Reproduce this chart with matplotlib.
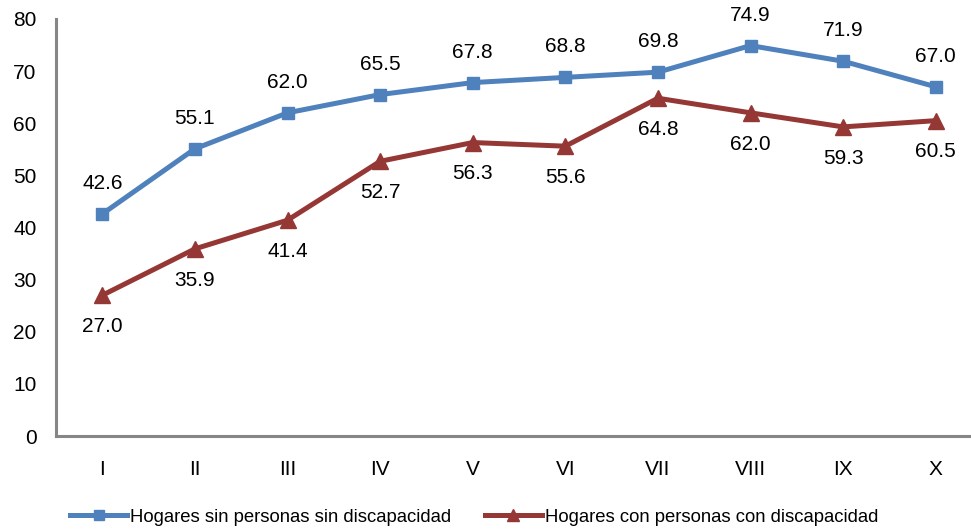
import matplotlib
matplotlib.use("Agg")
import matplotlib.pyplot as plt

categories = ["I", "II", "III", "IV", "V", "VI", "VII", "VIII", "IX", "X"]
sin_disc = [42.6, 55.1, 62.0, 65.5, 67.8, 68.8, 69.8, 74.9, 71.9, 67.0]
con_disc = [27.0, 35.9, 41.4, 52.7, 56.3, 55.6, 64.8, 62.0, 59.3, 60.5]
yticks = [0, 10, 20, 30, 40, 50, 60, 70, 80]

plt.rcParams['font.family'] = ['Liberation Sans', 'DejaVu Sans']

fig = plt.figure(figsize=(9.71, 5.29), dpi=100)
ax = fig.add_axes([56/971, 1-436/529, 1-56/971, (436-19)/529])

blue = "#4F81BD"
red = "#953735"
x = list(range(len(categories)))
ax.plot(x, sin_disc, color=blue, lw=3.6, marker="s", ms=9, label="Hogares sin personas sin discapacidad", clip_on=False)
ax.plot(x, con_disc, color=red, lw=3.6, marker="^", ms=11, label="Hogares con personas con discapacidad", clip_on=False)

fs = 15
for xi, v in zip(x, sin_disc):
    ax.annotate(f"{v:.1f}", (xi, v), xytext=(0, 22), textcoords="offset points",
                ha="center", va="center", fontsize=fs)
for xi, v in zip(x, con_disc):
    ax.annotate(f"{v:.1f}", (xi, v), xytext=(0, -22.5), textcoords="offset points",
                ha="center", va="center", fontsize=fs)

ax.set_xlim(-0.5, -0.5 + 915/92.6)
ax.set_ylim(0, 80)
ax.set_yticks(yticks)
ax.set_yticklabels([str(t) for t in yticks])
ax.set_xticks(x)
ax.set_xticklabels(categories)
ax.tick_params(axis="both", length=0, labelsize=fs)
ax.tick_params(axis="y", pad=14)
ax.tick_params(axis="x", pad=17)
for s in ["top", "right"]:
    ax.spines[s].set_visible(False)
for s in ["left", "bottom"]:
    ax.spines[s].set_color("#868686")
    ax.spines[s].set_linewidth(2.2)

fig.legend(loc="center", bbox_to_anchor=(474/971, 1-517/529), ncol=2, frameon=False,
           fontsize=13.3, handlelength=3.1, handletextpad=0.15, columnspacing=1.8,
           markerscale=0.8)

fig.savefig("out.png", dpi=100)
